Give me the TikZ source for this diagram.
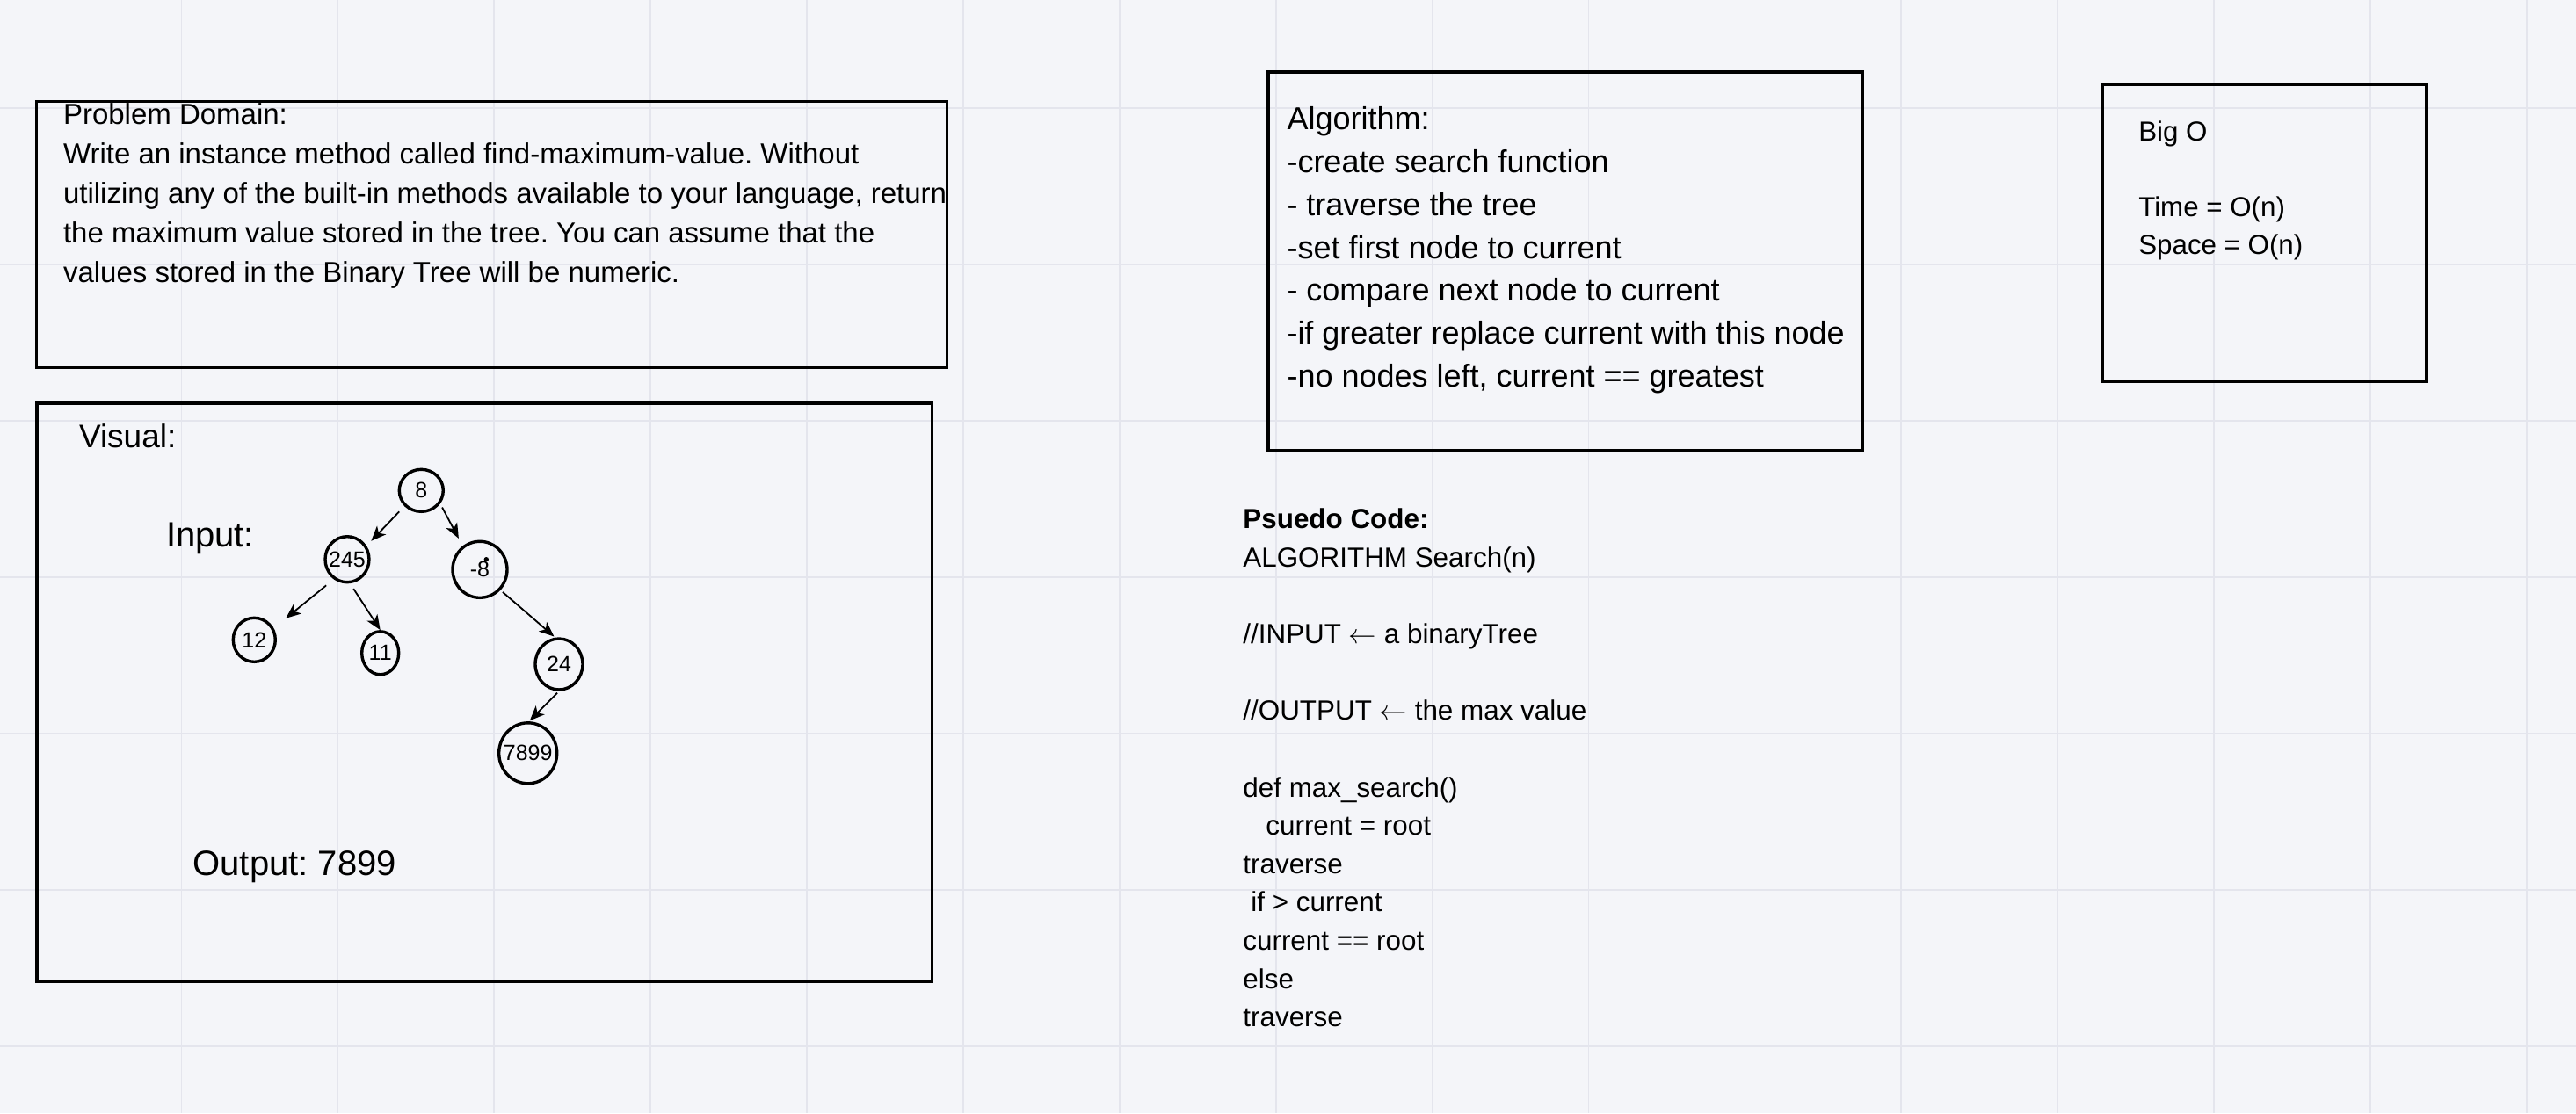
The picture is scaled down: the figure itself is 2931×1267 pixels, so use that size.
\RequirePackage{fix-cm}
\documentclass[tikz,border=0pt]{standalone}
\usepackage{fontspec}
\setmainfont{Liberation Sans}
\usetikzlibrary{arrows.meta,shapes.geometric}
\definecolor{bgc}{RGB}{244,245,249}
\definecolor{gridc}{RGB}{228,229,237}
\newcommand\myline[1]{\hbox{#1}}
\frenchspacing
\begin{document}
\begin{tikzpicture}[x=1pt,y=-1pt,
  box/.style={draw=black,line width=3.5pt},
  tn/.style={ellipse,draw=black,line width=3.4pt,inner sep=0pt,font=\fontsize{25}{30}\selectfont},
  arr/.style={line width=1.8pt,-{Stealth[length=17pt,width=14pt,inset=4.5pt]}},
  txt/.style={anchor=base west,inner sep=0pt,outer sep=0pt},
  dotn/.style={circle,fill=black,inner sep=0pt,minimum size=5.4pt}
]
\fill[bgc] (0,0) rectangle (2931,1267);
\useasboundingbox (0,0) rectangle (2931,1267);
% grid
\foreach \k in {0,...,16} \draw[gridc,line width=1.7pt] ({28.5+177.9*\k},0) -- ({28.5+177.9*\k},1267);
\foreach \k in {0,...,6} \draw[gridc,line width=1.7pt] (0,{123.3+177.9*\k}) -- (2931,{123.3+177.9*\k});

% Problem domain
\begin{scope}
\clip (0,0) rectangle (1076,1267);
\node[txt,font=\fontsize{33}{45}\selectfont] (pdtext) at (72,141.7) {\vtop{%
\myline{Problem Domain:}%
\myline{Write an instance method called find-maximum-value. Without}%
\myline{utilizing any of the built-in methods available to your language, return}%
\myline{the maximum value stored in the tree. You can assume that the}%
\myline{values stored in the Binary Tree will be numeric.}}};
\end{scope}
\draw[box] (41.4,115.7) rectangle (1077.7,418.3);

% Visual
\draw[box] (42,459) rectangle (1060.5,1117);
\node[txt,font=\fontsize{37}{44}\selectfont] (vis) at (90,509) {Visual:};
\node[txt,font=\fontsize{40}{48}\selectfont] (inp) at (189,622) {Input:};
\node[txt,font=\fontsize{40}{48}\selectfont] (outp) at (219.6,996) {Output: 7899};

% tree
\node[tn,minimum width=50pt,minimum height=48pt] (n8) at (479.3,558.3) {\makebox[0pt]{8}};
\node[tn,minimum width=50pt,minimum height=52pt] (n245) at (395,636.7) {\makebox[0pt]{245}};
\node[tn,minimum width=62pt,minimum height=64pt] (nm8) at (546,648.3) {\makebox[0pt]{-8}};
\node[tn,minimum width=48pt,minimum height=50pt] (n12) at (289.3,728.3) {\makebox[0pt]{12}};
\node[tn,minimum width=42pt,minimum height=49pt] (n11) at (432.7,743.3) {\makebox[0pt]{11}};
\node[tn,minimum width=54pt,minimum height=58pt] (n24) at (636,756) {\makebox[0pt]{24}};
\node[tn,minimum width=66pt,minimum height=69pt] (n7899) at (600.7,857.3) {\makebox[0pt]{7899}};
\node[dotn] (dot) at (553.3,636.7) {};

\draw[arr,shorten <=8.5pt,shorten >=7.5pt] (n8.-137) -- (n245.35);
\draw[arr,shorten <=4.6pt,shorten >=9.6pt] (n8.-35) -- (nm8.126);
\draw[arr,shorten <=11pt,shorten >=17.7pt] (n245.-124) -- (n12.31);
\draw[arr,shorten <=7pt] (n245.-83) -- (n11.90);
\draw[arr,shorten <=3.3pt,shorten >=1.8pt] (nm8.-45) -- (n24.98);
\draw[arr,shorten <=2.8pt,shorten >=1.1pt] (n24.-90) -- (n7899.88);

% Algorithm
\draw[box] (1443,82) rectangle (2119,513);
\node[txt,font=\fontsize{36}{48.9}\selectfont] (algo) at (1464.5,147.3) {\vtop{%
\myline{Algorithm:}%
\myline{-create search function}%
\myline{- traverse the tree}%
\myline{-set first node to current}%
\myline{- compare next node to current}%
\myline{-if greater replace current with this node}%
\myline{-no nodes left, current == greatest}}};

% Big O
\draw[box] (2392.5,96) rectangle (2761,434);
\node[txt,font=\fontsize{31.3}{43}\selectfont] (bigo) at (2433.3,160.7) {\vtop{%
\myline{Big O}%
\myline{}%
\myline{Time = O(n)}%
\myline{Space = O(n)}}};

% Pseudo code
\node[txt,font=\fontsize{31.4}{43.6}\selectfont] (pseudo) at (1414.4,601.8) {\vtop{%
\myline{\bfseries Psuedo Code:}%
\myline{ALGORITHM Search(n)}%
\myline{}%
\myline{//INPUT $\leftarrow$ a binaryTree}%
\myline{}%
\myline{//OUTPUT $\leftarrow$ the max value}%
\myline{}%
\myline{def max\_search()}%
\myline{\hspace*{26pt}current = root}%
\myline{traverse}%
\myline{\hspace*{9pt}if > current}%
\myline{current == root}%
\myline{else}%
\myline{traverse}}};
\end{tikzpicture}
\end{document}
